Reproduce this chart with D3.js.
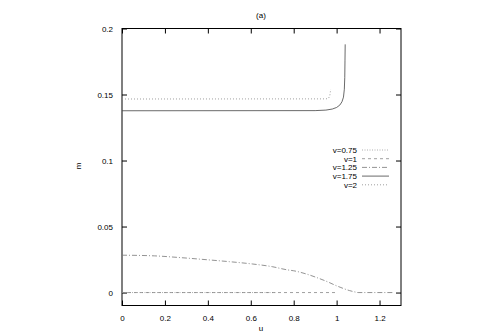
<!DOCTYPE html>
<html><head><meta charset="utf-8">
<script src="https://cdn.jsdelivr.net/npm/d3@7"></script>
<style>body{margin:0;background:#fff}svg{display:block}text{font-family:"Liberation Sans",Arial,sans-serif;font-size:8px;fill:#000}</style>
</head><body>
<script>
const xTicks = [0, 0.2, 0.4, 0.6, 0.8, 1, 1.2];
const yTicks = [0, 0.05, 0.1, 0.15, 0.2];
const labels = ["v=0.75", "v=1", "v=1.25", "v=1.75", "v=2"];
const s075 = [[0, 0], [0.72, 0]];
const s1 = [[0, 0], [1.0, 0]];
const s125 = [[0, 0.0283], [0.15, 0.0278], [0.27, 0.0265], [0.4, 0.0248], [0.5, 0.0234], [0.61, 0.0216], [0.7, 0.0196], [0.77, 0.0172], [0.8, 0.0165], [0.86, 0.0140], [0.91, 0.0112], [0.96, 0.0080], [0.99, 0.0058], [1.02, 0.0038], [1.06, 0.0015], [1.09, 0.0003], [1.1, 0], [1.26, 0]];
const s175 = [[0, 0.1377], [0.9, 0.1378], [0.95, 0.1382], [0.98, 0.139], [1.0, 0.1402], [1.015, 0.142], [1.025, 0.1445], [1.032, 0.148], [1.036, 0.154], [1.038, 0.163], [1.039, 0.176], [1.04, 0.188]];
const s2 = [[0, 0.1466], [0.95, 0.1467], [0.962, 0.147], [0.968, 0.149], [0.971, 0.152], [0.972, 0.154]];
const series = [s075, s1, s125, s175, s2];
const dashes = ["1,1.5", "3,3", "5,2,1,2", null, "1,2"];
const colors = ["#999", "#888", "#777", "#444", "#888"];

const W = 480, H = 336;
const L = 122, R = 401, T = 28.5, B = 305.5;
const svg = d3.select("body").append("svg").attr("width", W).attr("height", H);
const x = d3.scaleLinear().domain([0, 1.3]).range([L, R]);
const y = d3.scaleLinear().domain([-0.0098, 0.2]).range([B, T]);

const tl = 5;
const gB = svg.append("g").attr("transform", `translate(0,${B})`).call(d3.axisBottom(x).tickValues(xTicks).tickSizeInner(-tl).tickSizeOuter(0).tickPadding(10).tickFormat(d3.format("")));
const gT = svg.append("g").attr("transform", `translate(0,${T})`).call(d3.axisTop(x).tickValues(xTicks).tickSizeInner(-tl).tickSizeOuter(0).tickFormat(""));
const gL = svg.append("g").attr("transform", `translate(${L},0)`).call(d3.axisLeft(y).tickValues(yTicks).tickSizeInner(-tl).tickSizeOuter(0).tickPadding(9).tickFormat(d3.format("")));
const gR = svg.append("g").attr("transform", `translate(${R},0)`).call(d3.axisRight(y).tickValues(yTicks).tickSizeInner(-tl).tickSizeOuter(0).tickFormat(""));
[gB, gT, gL, gR].forEach(g => { g.select(".domain").remove(); g.selectAll("line").attr("stroke", "#000"); g.selectAll("text").attr("font-size", 8).attr("font-family", null); });

svg.append("rect").attr("x", L).attr("y", T).attr("width", R - L).attr("height", B - T).attr("fill", "none").attr("stroke", "#000").attr("stroke-width", 1);

const line = d3.line().x(d => x(d[0])).y(d => y(d[1])).curve(d3.curveMonotoneX);
const line2 = d3.line().x(d => x(d[0])).y(d => y(d[1])).curve(d3.curveLinear);
series.forEach((s, i) => {
  svg.append("path").attr("d", (i === 3 || i === 4) ? line2(s) : line(s)).attr("fill", "none")
    .attr("stroke", colors[i]).attr("stroke-width", 0.8).attr("stroke-dasharray", dashes[i]);
});

// legend
const ly0 = 150, ldy = 8.7;
labels.forEach((lab, i) => {
  const yy = ly0 + i * ldy;
  svg.append("text").attr("x", 357).attr("y", yy + 3).attr("text-anchor", "end").text(lab);
  svg.append("line").attr("x1", 362).attr("x2", 389).attr("y1", yy).attr("y2", yy)
    .attr("stroke", colors[i]).attr("stroke-width", 0.8).attr("stroke-dasharray", dashes[i]);
});

svg.append("text").attr("x", 261).attr("y", 18).attr("text-anchor", "middle").text("(a)");
svg.append("text").attr("x", 261).attr("y", 331).attr("text-anchor", "middle").text("u");
svg.append("text").attr("transform", "translate(81,166) rotate(-90)").attr("text-anchor", "middle").text("m");
</script>
</body></html>
